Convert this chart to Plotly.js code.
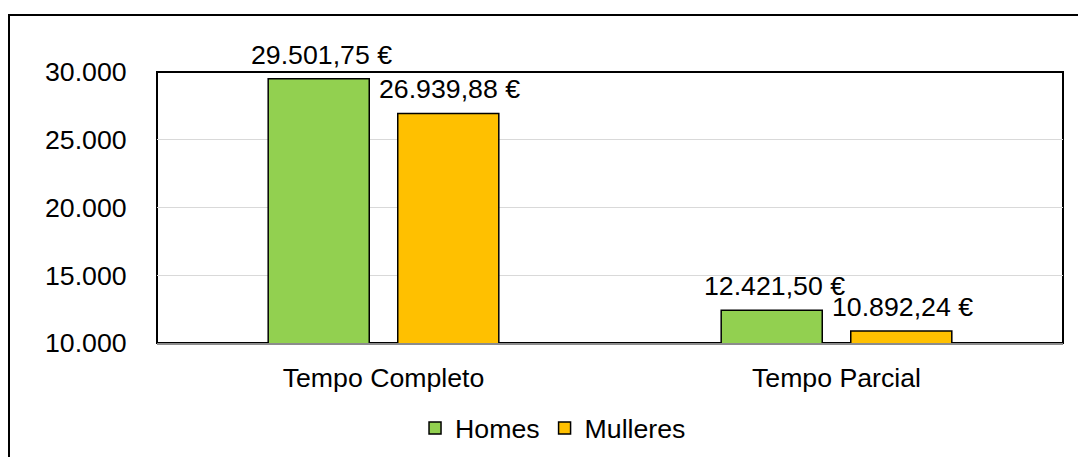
<!DOCTYPE html>
<html>
<head>
<meta charset="utf-8">
<script src="https://cdn.plot.ly/plotly-3.0.1.min.js"></script>
<style>
html,body{margin:0;padding:0;background:#fff;overflow:hidden;}
#wrap{position:relative;width:1078px;height:457px;}
#chart{position:absolute;left:0;top:0;width:1078px;height:457px;}
#frame{position:absolute;left:8px;top:14px;width:1200px;height:600px;border:2px solid #000;pointer-events:none;}
</style>
</head>
<body>
<div id="wrap"><div id="chart"></div><div id="frame"></div></div>
<script>
const categories = ["Tempo Completo", "Tempo Parcial"];
const homes = [29501.75, 12421.50];
const mulleres = [26939.88, 10892.24];
const seriesNames = ["Homes", "Mulleres"];
const yTicks = [10000, 15000, 20000, 25000, 30000];

const FONT = "Liberation Sans, Arial, sans-serif";
const FS = 26.7;

const traces = [
  {type:"bar", name:seriesNames[0], x:categories, y:homes,
   marker:{color:"#92D050", line:{color:"#000", width:1.5}}, hoverinfo:"y"},
  {type:"bar", name:seriesNames[1], x:categories, y:mulleres,
   marker:{color:"#FFC000", line:{color:"#000", width:1.5}}, hoverinfo:"y"}
];

const fmt = v => v.toFixed(2).replace(/\B(?=(\d{3})+(?!\d))/g, "#").replace(".", ",").replace(/#/g, ".") + " €";
const annotations = [];
[homes, mulleres].forEach((arr, s) => {
  arr.forEach((v, i) => {
    annotations.push({x:categories[i], y:v, xref:"x", yref:"y", text:fmt(v),
      showarrow:false, yanchor:"bottom", xshift:(s===0?-62:66), yshift:7,
      font:{family:FONT, size:FS, color:"#000"}});
  });
});

const layout = {
  width:1078, height:457,
  margin:{l:157, r:15, t:72, b:114},
  paper_bgcolor:"#fff", plot_bgcolor:"#fff",
  separators:",.",
  font:{family:FONT, size:FS, color:"#000"},
  barmode:"group", bargap:0.428, bargroupgap:0.22,
  showlegend:true,
  legend:{orientation:"h", xref:"container", yref:"container", x:0.385, y:0.063,
    xanchor:"left", yanchor:"middle", font:{family:FONT, size:FS}, bgcolor:"rgba(0,0,0,0)"},
  xaxis:{type:"category", showgrid:false, zeroline:false, showline:true, linecolor:"#8c8c8c", linewidth:2,
    ticks:"outside", ticklen:10, tickcolor:"rgba(0,0,0,0)", tickfont:{family:FONT, size:FS}},
  yaxis:{range:[10000, 30000], tickvals:yTicks, tickformat:",.0f", showgrid:true, gridcolor:"#d9d9d9", gridwidth:1,
    zeroline:false, showline:false, ticks:"outside", ticklen:24, tickcolor:"rgba(0,0,0,0)", tickfont:{family:FONT, size:FS}},
  shapes:[{type:"rect", xref:"paper", yref:"paper", x0:0, x1:1, y0:0, y1:1, line:{color:"#000", width:2}, layer:"below"}],
  annotations:annotations
};

Plotly.newPlot("chart", traces, layout, {displayModeBar:false, staticPlot:true});
</script>
</body>
</html>
